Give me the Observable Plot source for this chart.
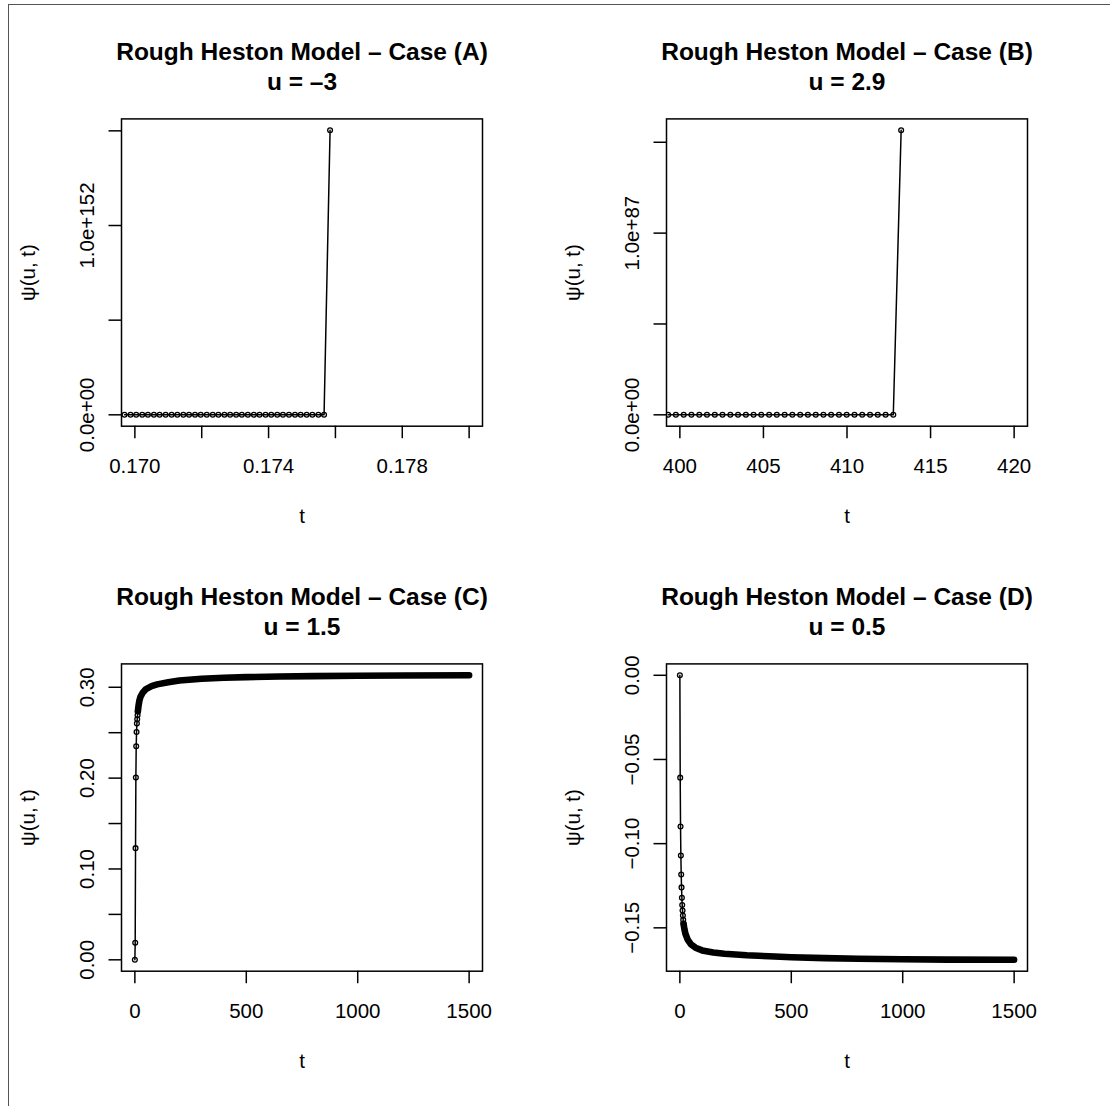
<!DOCTYPE html>
<html>
<head>
<meta charset="utf-8">
<script src="https://cdn.jsdelivr.net/npm/d3@7"></script>
<script src="https://cdn.jsdelivr.net/npm/@observablehq/plot@0.6"></script>
<style>
  body { margin: 0; background: #fff; }
  #page { position: relative; width: 1110px; height: 1106px; overflow: hidden; background: #fff; }
  #page .edge { position: absolute; left: 8px; top: 4px; right: 0; bottom: 0;
                border-top: 1.5px solid #555; border-left: 1.5px solid #555; }
  #page svg { position: absolute; }
</style>
</head>
<body>
<div id="page"><div class="edge"></div></div>
<script>
const FONT = '"Liberation Sans", Arial, Helvetica, sans-serif';

// ---- Case (A): u = -3 --------------------------------------------------
const tA = [0.16969, 0.16987, 0.17004, 0.17022, 0.17039, 0.17057, 0.17074, 0.17092,
            0.17110, 0.17127, 0.17145, 0.17162, 0.17180, 0.17197, 0.17215, 0.17233,
            0.17250, 0.17268, 0.17285, 0.17303, 0.17320, 0.17338, 0.17356, 0.17373,
            0.17391, 0.17408, 0.17426, 0.17443, 0.17461, 0.17479, 0.17496, 0.17514,
            0.17531, 0.17549, 0.17566, 0.17584];
const psiA = [0, 0, 0, 0, 0, 0, 0, 0, 0, 0, 0, 0, 0, 0, 0, 0, 0, 0,
              0, 0, 0, 0, 0, 0, 0, 0, 0, 0, 0, 0, 0, 0, 0, 0, 0, 1.503e152];
const xLimA = [0.170, 0.180];
const xTicksA = [0.170, 0.172, 0.174, 0.176, 0.178, 0.180];
const xLabelsA = ["0.170", "", "0.174", "", "0.178", ""];
const yTicksA = [0, 5e151, 1e152, 1.5e152];
const yLabelsA = ["0.0e+00", "", "1.0e+152", ""];

// ---- Case (B): u = 2.9 -------------------------------------------------
const tB = [399.30, 399.76, 400.23, 400.69, 401.16, 401.62, 402.09, 402.55,
            403.02, 403.48, 403.95, 404.41, 404.87, 405.34, 405.80, 406.27,
            406.73, 407.20, 407.66, 408.13, 408.59, 409.05, 409.52, 409.98,
            410.45, 410.91, 411.38, 411.84, 412.31, 412.77, 413.24];
const psiB = [0, 0, 0, 0, 0, 0, 0, 0, 0, 0, 0, 0, 0, 0, 0, 0, 0, 0,
              0, 0, 0, 0, 0, 0, 0, 0, 0, 0, 0, 0, 1.566e87];
const xLimB = [400, 420];
const xTicksB = [400, 405, 410, 415, 420];
const xLabelsB = ["400", "405", "410", "415", "420"];
const yTicksB = [0, 5e86, 1e87, 1.5e87];
const yLabelsB = ["0.0e+00", "", "1.0e+87", ""];

// ---- Case (C): u = 1.5 -------------------------------------------------
// first steps, where the markers are still apart
const tC = [0, 1.5, 3, 4.5, 6, 7.5, 9, 10.5, 12, 13.5];
const psiC = [0, 0.0187, 0.1229, 0.2006, 0.2350, 0.2508, 0.2600, 0.2648, 0.2692, 0.2736];
// remainder of the grid, where the markers merge into a solid band
const tCdense = [13.5, 16, 20, 25, 35, 50, 75, 100, 150, 200, 300, 400, 500,
                 650, 800, 1000, 1200, 1500];
const psiCdense = [0.2736, 0.2790, 0.2850, 0.2895, 0.2940, 0.2980, 0.3012, 0.3032,
                   0.3056, 0.3074, 0.3094, 0.3105, 0.3112, 0.3118, 0.3123, 0.3127,
                   0.3130, 0.3132];
const xLimC = [0, 1500];
const xTicksC = [0, 500, 1000, 1500];
const xLabelsC = ["0", "500", "1000", "1500"];
const yTicksC = [0, 0.05, 0.10, 0.15, 0.20, 0.25, 0.30];
const yLabelsC = ["0.00", "", "0.10", "", "0.20", "", "0.30"];

// ---- Case (D): u = 0.5 -------------------------------------------------
const tD = [0, 1.5, 3, 4.5, 6, 7.5, 9, 10.5, 12, 13.5, 15, 16.5];
const psiD = [0, -0.0608, -0.0898, -0.1071, -0.1183, -0.1260, -0.1322, -0.1364,
              -0.1397, -0.1427, -0.1453, -0.1476];
const tDdense = [16.5, 20, 25, 35, 50, 70, 100, 150, 200, 300, 400, 500, 650, 800,
                 1000, 1200, 1500];
const psiDdense = [-0.1476, -0.1505, -0.1535, -0.1570, -0.1598, -0.1618, -0.1634,
                   -0.1646, -0.1654, -0.1663, -0.1669, -0.1675, -0.1680, -0.1684,
                   -0.1687, -0.1689, -0.1690];
const xLimD = [0, 1500];
const xTicksD = [0, 500, 1000, 1500];
const xLabelsD = ["0", "500", "1000", "1500"];
const yTicksD = [0, -0.05, -0.10, -0.15];
const yLabelsD = ["0.00", "\u22120.05", "\u22120.10", "\u22120.15"];

// ---- helpers -------------------------------------------------------------
const rows = (t, psi) => t.map((v, i) => ({t: v, psi: psi[i]}));
// axis range extended 4% on each side of the data range
const pad = ([a, b]) => [a - 0.04 * (b - a), b + 0.04 * (b - a)];
const labelFor = (ticks, labels) => d => {
  const i = ticks.findIndex(v => Math.abs(v - d) <= 1e-9 * Math.max(1, Math.abs(v)));
  return i < 0 ? "" : labels[i];
};

const TICK = 12.5, AXIS_FONT = 20.5, TITLE_FONT = 24.5;

function panel(opts) {
  const {left, top, width, height, box, title, sub,
         xDomain, xTicks, xLabels, yDomain, yTicks, yLabels,
         sparse, dense} = opts;
  const yLab = yTicks.map((v, i) => ({v, s: yLabels[i]})).filter(d => d.s);
  const marks = [
    Plot.frame({stroke: "black", strokeWidth: 1.5}),
    Plot.axisX(xTicks, {tickSize: TICK, tickPadding: 19.5, strokeWidth: 1.5, label: null,
                        tickFormat: labelFor(xTicks, xLabels), fontSize: AXIS_FONT}),
    Plot.axisY(yTicks, {tickSize: TICK, strokeWidth: 1.5, label: null, tickFormat: () => ""}),
    Plot.text(yLab, {y: "v", text: "s", frameAnchor: "left", rotate: -90, dx: -28,
                     textAnchor: "middle", lineAnchor: "bottom", fontSize: AXIS_FONT}),
    Plot.text(["t"], {text: d => d, frameAnchor: "bottom", dy: 97, lineAnchor: "bottom",
                      fontSize: AXIS_FONT}),
    Plot.text(["\u03c8(u, t)"], {text: d => d, frameAnchor: "left", rotate: -90, dx: -87,
                                 textAnchor: "middle", lineAnchor: "bottom", fontSize: AXIS_FONT}),
    Plot.text([title], {text: d => d, frameAnchor: "top", dy: -58.5, lineAnchor: "bottom",
                        fontSize: TITLE_FONT, fontWeight: "bold"}),
    Plot.text([sub], {text: d => d, frameAnchor: "top", dy: -28.5, lineAnchor: "bottom",
                      fontSize: TITLE_FONT, fontWeight: "bold"}),
    Plot.line(sparse, {x: "t", y: "psi", stroke: "black", strokeWidth: 1.5, clip: true})
  ];
  if (dense) {
    marks.push(Plot.line(dense, {x: "t", y: "psi", stroke: "black", strokeWidth: 6.6,
                                 strokeLinecap: "round", strokeLinejoin: "round", clip: true}));
  }
  marks.push(Plot.dot(sparse, {x: "t", y: "psi", r: 2.4, stroke: "black", strokeWidth: 1.3,
                               fill: "none", clip: true}));

  const svg = Plot.plot({
    width, height,
    marginLeft: box.l - left, marginRight: left + width - box.r,
    marginTop: box.t - top, marginBottom: top + height - box.b,
    x: {domain: xDomain},
    y: {domain: yDomain},
    style: {fontFamily: FONT, background: "transparent", color: "black", overflow: "visible"},
    marks
  });
  svg.style.left = left + "px";
  svg.style.top = top + "px";
  document.getElementById("page").appendChild(svg);
}

const rowA = {top: 0, height: 545, t: 118.4, b: 425.7};
const rowC = {top: 545, height: 561, t: 663.4, b: 970.7};
const colA = {left: 0, width: 555, l: 121, r: 482};
const colB = {left: 555, width: 555, l: 666, r: 1027};
const place = (c, r) => ({left: c.left, top: r.top, width: c.width, height: r.height,
                          box: {l: c.l, r: c.r, t: r.t, b: r.b}});

panel({...place(colA, rowA),
  title: "Rough Heston Model \u2013 Case (A)", sub: "u = \u20133",
  xDomain: pad(xLimA), xTicks: xTicksA, xLabels: xLabelsA,
  yDomain: pad(d3.extent(psiA)), yTicks: yTicksA, yLabels: yLabelsA,
  sparse: rows(tA, psiA)});

panel({...place(colB, rowA),
  title: "Rough Heston Model \u2013 Case (B)", sub: "u = 2.9",
  xDomain: pad(xLimB), xTicks: xTicksB, xLabels: xLabelsB,
  yDomain: pad(d3.extent(psiB)), yTicks: yTicksB, yLabels: yLabelsB,
  sparse: rows(tB, psiB)});

panel({...place(colA, rowC),
  title: "Rough Heston Model \u2013 Case (C)", sub: "u = 1.5",
  xDomain: pad(xLimC), xTicks: xTicksC, xLabels: xLabelsC,
  yDomain: pad(d3.extent([...psiC, ...psiCdense])), yTicks: yTicksC, yLabels: yLabelsC,
  sparse: rows(tC, psiC), dense: rows(tCdense, psiCdense)});

panel({...place(colB, rowC),
  title: "Rough Heston Model \u2013 Case (D)", sub: "u = 0.5",
  xDomain: pad(xLimD), xTicks: xTicksD, xLabels: xLabelsD,
  yDomain: pad(d3.extent([...psiD, ...psiDdense])), yTicks: yTicksD, yLabels: yLabelsD,
  sparse: rows(tD, psiD), dense: rows(tDdense, psiDdense)});
</script>
</body>
</html>
